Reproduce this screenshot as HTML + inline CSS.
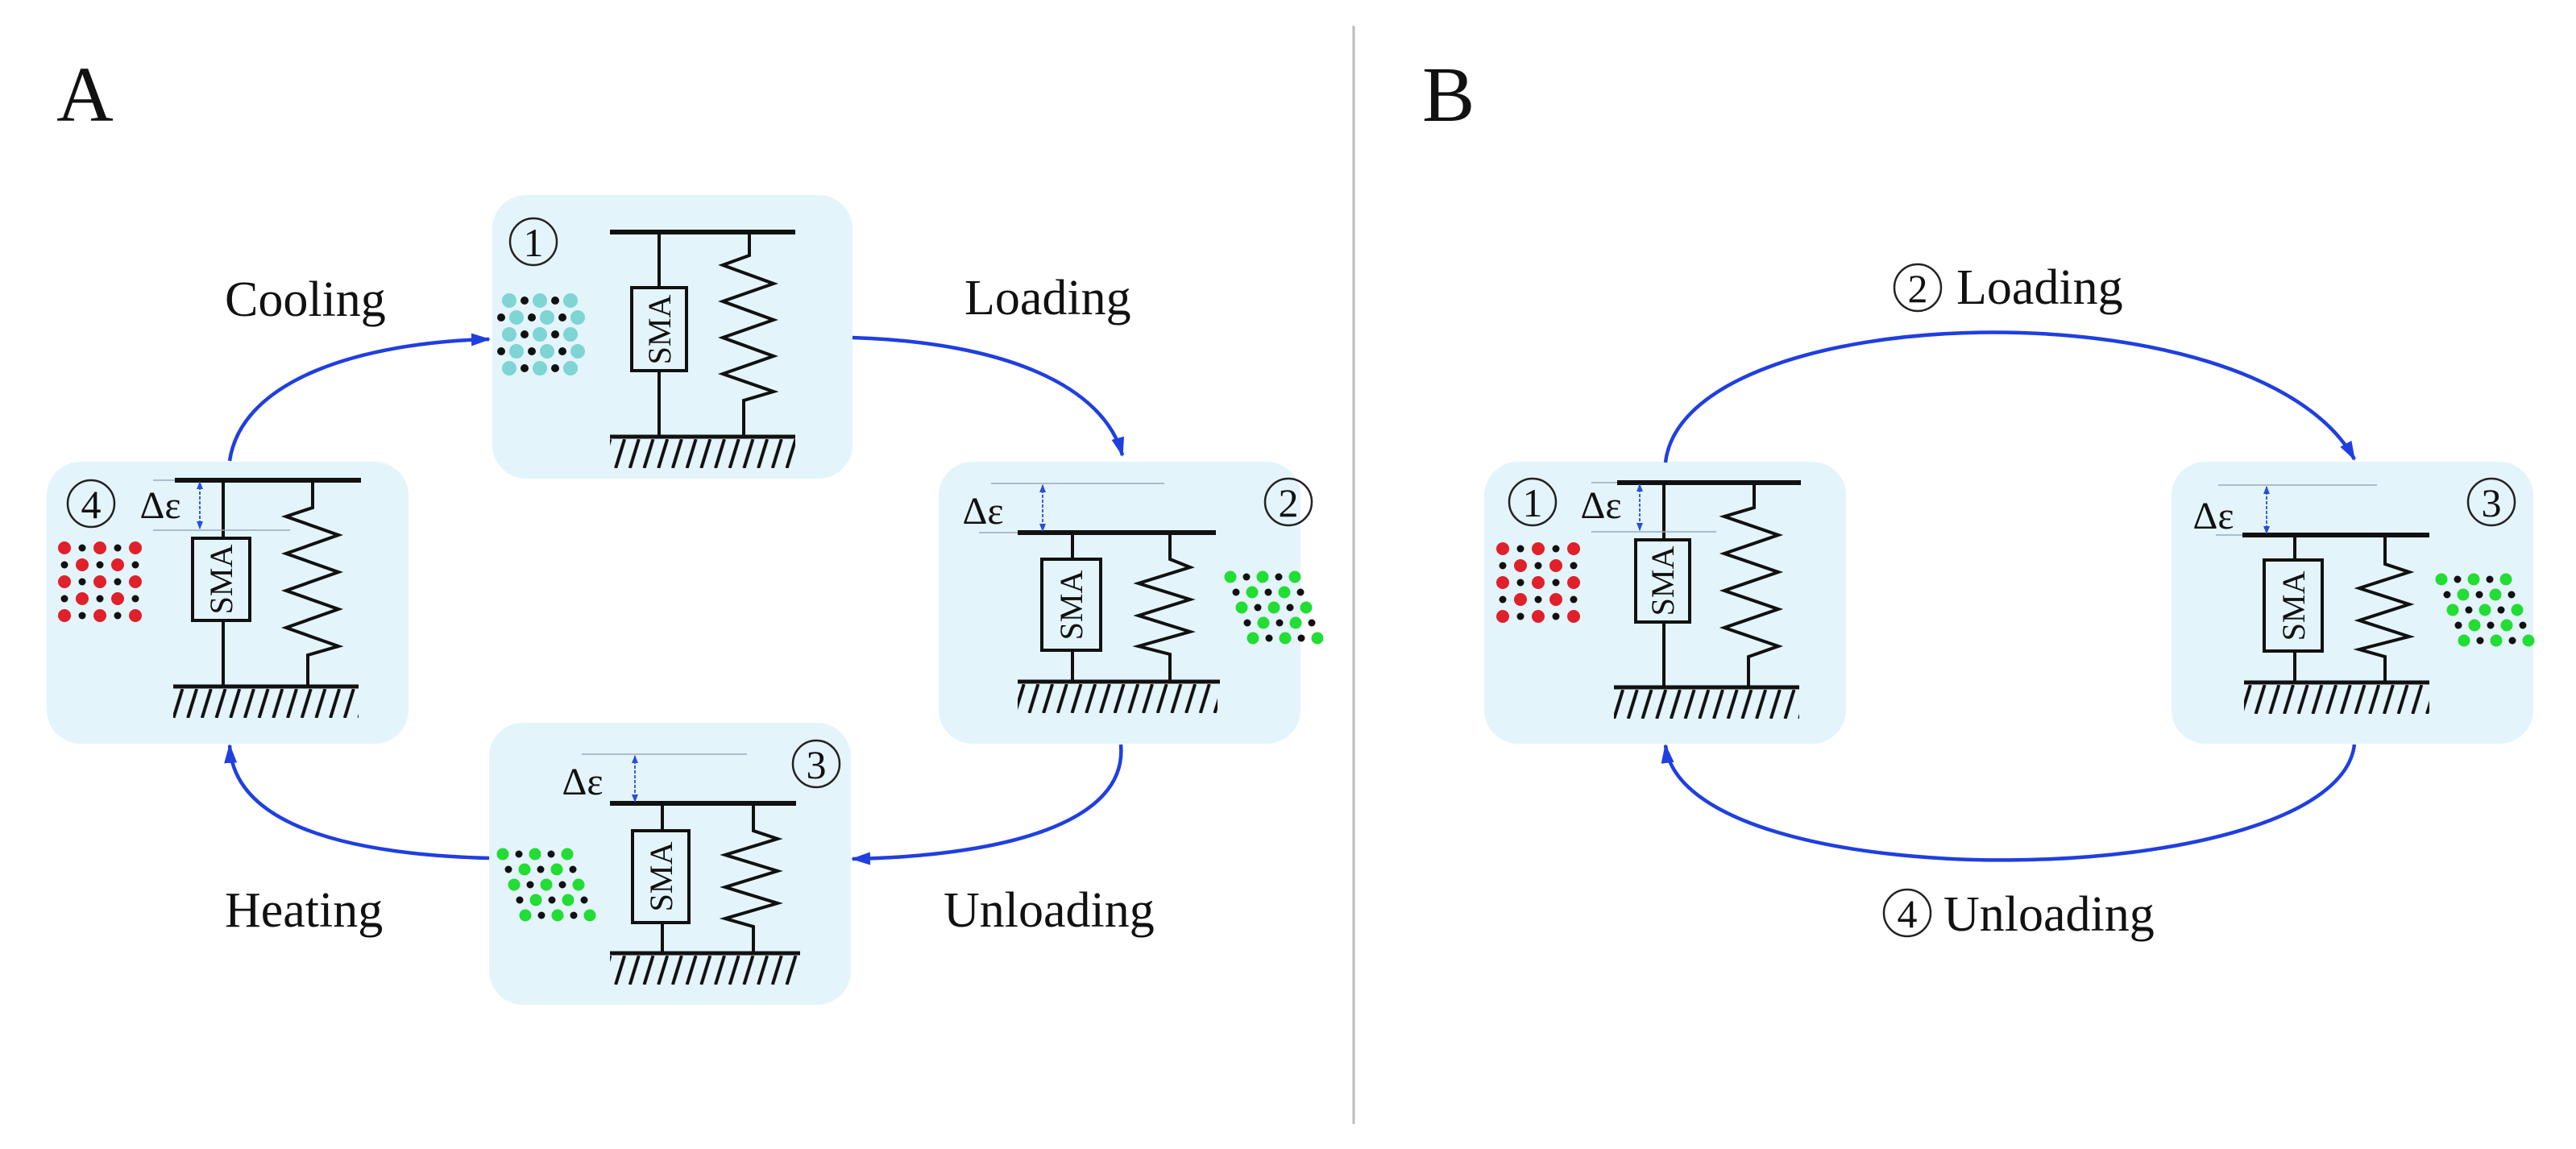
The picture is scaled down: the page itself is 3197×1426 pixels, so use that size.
<!DOCTYPE html>
<html><head><meta charset="utf-8"><style>
html,body{margin:0;padding:0;background:#fff;}
svg{display:block;}
text{font-family:"Liberation Serif",serif;fill:#111;}
</style></head><body>
<svg width="3197" height="1426" viewBox="0 0 3197 1426" xmlns="http://www.w3.org/2000/svg">
<defs>
<marker id="ar" markerUnits="userSpaceOnUse" markerWidth="30" markerHeight="24" refX="22" refY="10" orient="auto"><path d="M0,2 L24,10 L0,18 Z" fill="#1f3fe0"/></marker>
<marker id="sa" markerUnits="userSpaceOnUse" markerWidth="12" markerHeight="12" refX="9" refY="5" orient="auto"><path d="M0,1 L10,5 L0,9 Z" fill="#2a4fd8"/></marker>
<marker id="sb" markerUnits="userSpaceOnUse" markerWidth="12" markerHeight="12" refX="1" refY="5" orient="auto"><path d="M10,1 L0,5 L10,9 Z" fill="#2a4fd8"/></marker>
<g id="red">
<circle cx="0" cy="0" r="8" fill="#e0202a"/><circle cx="22" cy="0" r="4.5" fill="#111"/><circle cx="44" cy="0" r="8" fill="#e0202a"/><circle cx="66" cy="0" r="4.5" fill="#111"/><circle cx="88" cy="0" r="8" fill="#e0202a"/>
<circle cx="0" cy="21" r="4.5" fill="#111"/><circle cx="22" cy="21" r="8" fill="#e0202a"/><circle cx="44" cy="21" r="4.5" fill="#111"/><circle cx="66" cy="21" r="8" fill="#e0202a"/><circle cx="88" cy="21" r="4.5" fill="#111"/>
<circle cx="0" cy="42" r="8" fill="#e0202a"/><circle cx="22" cy="42" r="4.5" fill="#111"/><circle cx="44" cy="42" r="8" fill="#e0202a"/><circle cx="66" cy="42" r="4.5" fill="#111"/><circle cx="88" cy="42" r="8" fill="#e0202a"/>
<circle cx="0" cy="63" r="4.5" fill="#111"/><circle cx="22" cy="63" r="8" fill="#e0202a"/><circle cx="44" cy="63" r="4.5" fill="#111"/><circle cx="66" cy="63" r="8" fill="#e0202a"/><circle cx="88" cy="63" r="4.5" fill="#111"/>
<circle cx="0" cy="84" r="8" fill="#e0202a"/><circle cx="22" cy="84" r="4.5" fill="#111"/><circle cx="44" cy="84" r="8" fill="#e0202a"/><circle cx="66" cy="84" r="4.5" fill="#111"/><circle cx="88" cy="84" r="8" fill="#e0202a"/>
</g>
<g id="green">
<circle cx="0" cy="0" r="7.5" fill="#22dd33"/><circle cx="20" cy="0" r="4.5" fill="#111"/><circle cx="40" cy="0" r="7.5" fill="#22dd33"/><circle cx="60" cy="0" r="4.5" fill="#111"/><circle cx="80" cy="0" r="7.5" fill="#22dd33"/>
<circle cx="7" cy="19" r="4.5" fill="#111"/><circle cx="27" cy="19" r="7.5" fill="#22dd33"/><circle cx="47" cy="19" r="4.5" fill="#111"/><circle cx="67" cy="19" r="7.5" fill="#22dd33"/><circle cx="87" cy="19" r="4.5" fill="#111"/>
<circle cx="14" cy="38" r="7.5" fill="#22dd33"/><circle cx="34" cy="38" r="4.5" fill="#111"/><circle cx="54" cy="38" r="7.5" fill="#22dd33"/><circle cx="74" cy="38" r="4.5" fill="#111"/><circle cx="94" cy="38" r="7.5" fill="#22dd33"/>
<circle cx="21" cy="57" r="4.5" fill="#111"/><circle cx="41" cy="57" r="7.5" fill="#22dd33"/><circle cx="61" cy="57" r="4.5" fill="#111"/><circle cx="81" cy="57" r="7.5" fill="#22dd33"/><circle cx="101" cy="57" r="4.5" fill="#111"/>
<circle cx="28" cy="76" r="7.5" fill="#22dd33"/><circle cx="48" cy="76" r="4.5" fill="#111"/><circle cx="68" cy="76" r="7.5" fill="#22dd33"/><circle cx="88" cy="76" r="4.5" fill="#111"/><circle cx="108" cy="76" r="7.5" fill="#22dd33"/>
</g>
<g id="cyan">
<circle cx="0" cy="0" r="9" fill="#7fd4d4"/><circle cx="19" cy="0" r="5" fill="#111"/><circle cx="38" cy="0" r="9" fill="#7fd4d4"/><circle cx="57" cy="0" r="5" fill="#111"/><circle cx="76" cy="0" r="9" fill="#7fd4d4"/>
<circle cx="-10" cy="21" r="5" fill="#111"/><circle cx="9" cy="21" r="9" fill="#7fd4d4"/><circle cx="28" cy="21" r="5" fill="#111"/><circle cx="47" cy="21" r="9" fill="#7fd4d4"/><circle cx="66" cy="21" r="5" fill="#111"/><circle cx="85" cy="21" r="9" fill="#7fd4d4"/>
<circle cx="0" cy="42" r="9" fill="#7fd4d4"/><circle cx="19" cy="42" r="5" fill="#111"/><circle cx="38" cy="42" r="9" fill="#7fd4d4"/><circle cx="57" cy="42" r="5" fill="#111"/><circle cx="76" cy="42" r="9" fill="#7fd4d4"/>
<circle cx="-10" cy="63" r="5" fill="#111"/><circle cx="9" cy="63" r="9" fill="#7fd4d4"/><circle cx="28" cy="63" r="5" fill="#111"/><circle cx="47" cy="63" r="9" fill="#7fd4d4"/><circle cx="66" cy="63" r="5" fill="#111"/><circle cx="85" cy="63" r="9" fill="#7fd4d4"/>
<circle cx="0" cy="84" r="9" fill="#7fd4d4"/><circle cx="19" cy="84" r="5" fill="#111"/><circle cx="38" cy="84" r="9" fill="#7fd4d4"/><circle cx="57" cy="84" r="5" fill="#111"/><circle cx="76" cy="84" r="9" fill="#7fd4d4"/>
</g>
<pattern id="h1" patternUnits="userSpaceOnUse" x="0" y="545" width="17.7" height="100"><line x1="14" y1="0" x2="3" y2="36" stroke="#111" stroke-width="4"/></pattern>
<pattern id="h4" patternUnits="userSpaceOnUse" x="0" y="855" width="17.7" height="100"><line x1="14" y1="0" x2="3" y2="36" stroke="#111" stroke-width="4"/></pattern>
<pattern id="h2" patternUnits="userSpaceOnUse" x="0" y="849" width="17.7" height="100"><line x1="14" y1="0" x2="3" y2="36" stroke="#111" stroke-width="4"/></pattern>
<pattern id="h3" patternUnits="userSpaceOnUse" x="0" y="1186" width="17.7" height="100"><line x1="14" y1="0" x2="3" y2="36" stroke="#111" stroke-width="4"/></pattern>
<pattern id="hb1" patternUnits="userSpaceOnUse" x="0" y="856" width="17.7" height="100"><line x1="14" y1="0" x2="3" y2="36" stroke="#111" stroke-width="4"/></pattern>
<pattern id="hb3" patternUnits="userSpaceOnUse" x="0" y="850" width="17.7" height="100"><line x1="14" y1="0" x2="3" y2="36" stroke="#111" stroke-width="4"/></pattern>
</defs>

<!-- divider -->
<line x1="1680" y1="32" x2="1680" y2="1395" stroke="#bbb" stroke-width="3"/>

<text x="70" y="150" font-size="98">A</text>
<text x="1765" y="150" font-size="98">B</text>

<!-- boxes -->
<g fill="#e4f4fb">
<rect x="611" y="242" width="447" height="352" rx="42"/>
<rect x="58" y="573" width="449" height="350" rx="42"/>
<rect x="1165" y="573" width="449" height="350" rx="42"/>
<rect x="607" y="897" width="449" height="350" rx="42"/>
<rect x="1842" y="573" width="449" height="350" rx="42"/>
<rect x="2695" y="573" width="449" height="350" rx="42"/>
</g>

<!-- labels -->
<g font-size="62">
<text x="279" y="392">Cooling</text>
<text x="1197" y="390">Loading</text>
<text x="1171" y="1150">Unloading</text>
<text x="279" y="1150">Heating</text>
<text x="2428" y="377">Loading</text>
<text x="2412" y="1155">Unloading</text>
</g>
<g fill="none" stroke="#222" stroke-width="2.5">
<circle cx="2380" cy="357" r="29"/>
<circle cx="2367" cy="1133" r="29"/>
</g>
<g font-size="50" text-anchor="middle">
<text x="2380" y="375">2</text>
<text x="2367" y="1151">4</text>
</g>

<!-- big arrows -->
<g fill="none" stroke="#1f3fe0" stroke-width="4.5" marker-end="url(#ar)">
<path d="M285,572 C300,470 450,425 607,421"/>
<path d="M1058,419 C1250,425 1370,480 1393,565"/>
<path d="M1391,924 C1400,1020 1250,1062 1058,1066"/>
<path d="M607,1065 C420,1060 290,1020 285,925"/>
<path d="M2067,574 C2090,370 2800,349 2922,570"/>
<path d="M2922,924 C2900,1110 2090,1120 2067,925"/>
</g>

<!-- mechanism common style -->
<g stroke="#111" stroke-width="4" fill="none">
<!-- Box1 -->
<line x1="757" y1="288" x2="987" y2="288" stroke-width="6"/>
<line x1="818" y1="288" x2="818" y2="357"/><rect x="784" y="357" width="68" height="103"/><line x1="818" y1="460" x2="818" y2="542"/>
<path d="M930,288 V317 L897,329 L960,352 L897,374 L960,397 L897,419 L960,442 L897,464 L960,486 L923,497 V542"/>
<line x1="757" y1="542" x2="987" y2="542" stroke-width="5"/>
<!-- Box4 -->
<line x1="217" y1="596" x2="448" y2="596" stroke-width="6"/>
<line x1="277" y1="596" x2="277" y2="668"/><rect x="239" y="668" width="71" height="102"/><line x1="277" y1="770" x2="277" y2="852"/>
<path d="M388,596 V630 L355,641 L420,664 L355,687 L420,710 L355,733 L420,756 L355,779 L420,802 L382,813 V852"/>
<line x1="215" y1="852" x2="445" y2="852" stroke-width="5"/>
<!-- Box2 -->
<line x1="1263" y1="661" x2="1509" y2="661" stroke-width="6"/>
<line x1="1331" y1="661" x2="1331" y2="694"/><rect x="1293" y="694" width="73" height="113"/><line x1="1331" y1="807" x2="1331" y2="846"/>
<path d="M1452,661 V694 L1477,704 L1413,724 L1477,744 L1413,764 L1477,784 L1413,802 L1452,812 V846"/>
<line x1="1263" y1="846" x2="1514" y2="846" stroke-width="5"/>
<!-- Box3 -->
<line x1="757" y1="997" x2="988" y2="997" stroke-width="6"/>
<line x1="822" y1="997" x2="822" y2="1031"/><rect x="785" y="1031" width="70" height="114"/><line x1="822" y1="1145" x2="822" y2="1183"/>
<path d="M935,997 V1031 L965,1041 L900,1061 L965,1081 L900,1101 L965,1121 L900,1140 L935,1150 V1183"/>
<line x1="757" y1="1183" x2="993" y2="1183" stroke-width="5"/>
<!-- B1 -->
<line x1="2007" y1="599" x2="2235" y2="599" stroke-width="6"/>
<line x1="2065" y1="599" x2="2065" y2="670"/><rect x="2030" y="670" width="67" height="102"/><line x1="2065" y1="772" x2="2065" y2="853"/>
<path d="M2177,599 V630 L2140,641 L2207,664 L2140,687 L2207,710 L2140,733 L2207,756 L2140,779 L2207,802 L2170,815 V853"/>
<line x1="2003" y1="853" x2="2233" y2="853" stroke-width="5"/>
<!-- B3 -->
<line x1="2783" y1="664" x2="3015" y2="664" stroke-width="6"/>
<line x1="2848" y1="664" x2="2848" y2="695"/><rect x="2810" y="695" width="72" height="113"/><line x1="2848" y1="808" x2="2848" y2="847"/>
<path d="M2960,664 V700 L2990,710 L2928,730 L2990,750 L2928,770 L2990,790 L2928,806 L2960,815 V847"/>
<line x1="2785" y1="847" x2="3015" y2="847" stroke-width="5"/>
</g>

<!-- hatches -->
<rect x="757" y="545" width="230" height="36" fill="url(#h1)"/>
<rect x="215" y="855" width="230" height="36" fill="url(#h4)"/>
<rect x="1263" y="849" width="248" height="36" fill="url(#h2)"/>
<rect x="757" y="1186" width="233" height="36" fill="url(#h3)"/>
<rect x="2003" y="856" width="230" height="36" fill="url(#hb1)"/>
<rect x="2785" y="850" width="230" height="36" fill="url(#hb3)"/>

<!-- SMA labels -->
<g font-size="40" text-anchor="middle">
<text transform="translate(832,409) rotate(-90)">SMA</text>
<text transform="translate(288,719) rotate(-90)">SMA</text>
<text transform="translate(1343,751) rotate(-90)">SMA</text>
<text transform="translate(834,1088) rotate(-90)">SMA</text>
<text transform="translate(2077,721) rotate(-90)">SMA</text>
<text transform="translate(2860,752) rotate(-90)">SMA</text>
</g>

<!-- circled numbers -->
<g fill="none" stroke="#222" stroke-width="2.5">
<circle cx="662" cy="300" r="29"/>
<circle cx="113" cy="625" r="29"/>
<circle cx="1599" cy="623" r="29"/>
<circle cx="1013" cy="948" r="29"/>
<circle cx="1902" cy="623" r="29"/>
<circle cx="3092" cy="623" r="29"/>
</g>
<g font-size="50" text-anchor="middle">
<text x="662" y="318">1</text>
<text x="113" y="643">4</text>
<text x="1599" y="641">2</text>
<text x="1013" y="966">3</text>
<text x="1902" y="641">1</text>
<text x="3092" y="641">3</text>
</g>

<!-- delta epsilon -->
<g stroke="#9ab" stroke-width="1.5">
<line x1="190" y1="596" x2="217" y2="596"/><line x1="190" y1="658" x2="360" y2="658"/>
<line x1="1230" y1="600" x2="1445" y2="600"/><line x1="1215" y1="661" x2="1263" y2="661"/>
<line x1="722" y1="936" x2="927" y2="936"/>
<line x1="1975" y1="599" x2="2007" y2="599"/><line x1="1975" y1="660" x2="2130" y2="660"/>
<line x1="2753" y1="602" x2="2950" y2="602"/><line x1="2750" y1="664" x2="2783" y2="664"/>
</g>
<g stroke="#2a4fd8" stroke-width="1.8" stroke-dasharray="4,2" marker-start="url(#sb)" marker-end="url(#sa)">
<line x1="248" y1="598" x2="248" y2="656"/>
<line x1="1294" y1="602" x2="1294" y2="659"/>
<line x1="788" y1="938" x2="788" y2="995"/>
<line x1="2035" y1="601" x2="2035" y2="658"/>
<line x1="2813" y1="604" x2="2813" y2="662"/>
</g>
<g font-size="48" text-anchor="middle">
<text x="199" y="643">Δε</text>
<text x="1220" y="650">Δε</text>
<text x="723" y="986">Δε</text>
<text x="1987" y="643">Δε</text>
<text x="2747" y="656">Δε</text>
</g>

<!-- lattices -->
<use href="#cyan" x="632" y="373"/>
<use href="#red" x="80" y="680"/>
<use href="#green" x="1527" y="716"/>
<use href="#green" x="624" y="1060"/>
<use href="#red" x="1865" y="681"/>
<use href="#green" x="3030" y="719"/>
</svg>
</body></html>
